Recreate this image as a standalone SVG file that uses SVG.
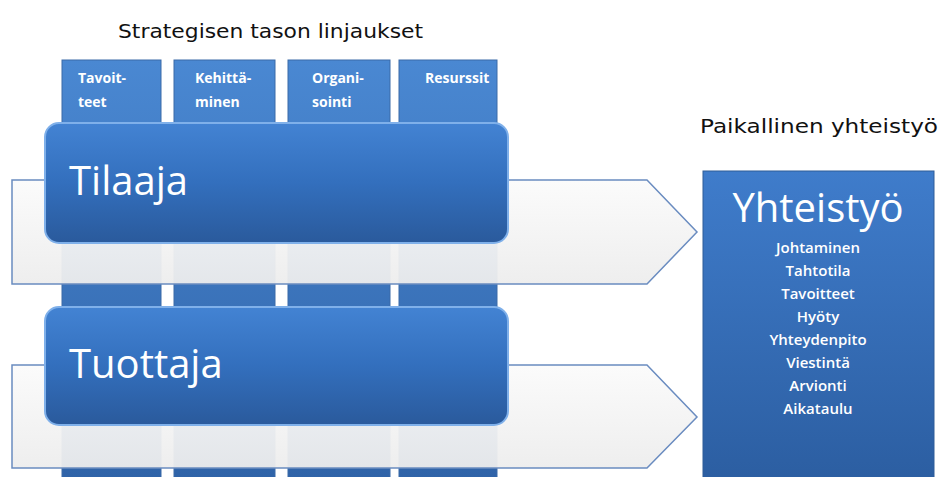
<svg xmlns="http://www.w3.org/2000/svg" width="945" height="477" viewBox="0 0 945 477">
<defs>
<linearGradient id="colG" x1="0" y1="0" x2="0" y2="1"><stop offset="0" stop-color="#4a88d2"/><stop offset="1" stop-color="#2f63a8"/></linearGradient>
<linearGradient id="boxG" x1="0" y1="0" x2="0" y2="1"><stop offset="0" stop-color="#4383d3"/><stop offset="0.5" stop-color="#336fbd"/><stop offset="1" stop-color="#2a5a9c"/></linearGradient>
<linearGradient id="bandG" x1="0" y1="0" x2="0" y2="1"><stop offset="0" stop-color="#fbfbfb"/><stop offset="1" stop-color="#ededed"/></linearGradient>
<linearGradient id="yG" x1="0" y1="0" x2="0" y2="1"><stop offset="0" stop-color="#3f7ccb"/><stop offset="1" stop-color="#2b5da0"/></linearGradient>
<style>
.col{fill:url(#colG);stroke:#3a6aa8;stroke-width:1}
.band{fill:url(#bandG);fill-opacity:0.95;stroke:#6a8cc0;stroke-width:1.5}
.box{fill:url(#boxG);stroke:#7fb0ea;stroke-width:2}
.big{font-family:"Open Sans","Noto Sans",sans-serif;fill:#fff;font-size:40px}
.sm{font-family:"Open Sans","Noto Sans",sans-serif;fill:#fff;font-weight:bold;font-size:14px}
.ls{font-family:"Open Sans","Noto Sans",sans-serif;fill:#fff;font-weight:600;font-size:15px}
.hd{font-family:"DejaVu Sans",sans-serif;fill:#111;font-size:20px}
</style>
</defs>
<rect width="945" height="477" fill="#fff"/>
<text class="hd" x="118" y="38" textLength="305" lengthAdjust="spacingAndGlyphs">Strategisen tason linjaukset</text>
<text class="hd" x="700" y="133" textLength="238" lengthAdjust="spacingAndGlyphs">Paikallinen yhteistyö</text>
<g id="col-tavoitteet"><rect class="col" x="62" y="60" width="99" height="420"/><text class="sm" x="78" y="83">Tavoit-</text><text class="sm" x="78" y="107">teet</text></g>
<g id="col-kehittaminen"><rect class="col" x="174" y="60" width="101" height="420"/><text class="sm" x="195" y="83">Kehittä-</text><text class="sm" x="195" y="107">minen</text></g>
<g id="col-organisointi"><rect class="col" x="288" y="60" width="102" height="420"/><text class="sm" x="312" y="83">Organi-</text><text class="sm" x="312" y="107">sointi</text></g>
<g id="col-resurssit"><rect class="col" x="399" y="60" width="98" height="420"/><text class="sm" x="425" y="83">Resurssit</text></g>
<g id="connectors">
<path class="band" d="M12,180 H647 L697,232 L647,284 H12 Z"/>
<path class="band" d="M12,365 H647 L697,417 L647,468 H12 Z"/>
</g>
<g id="tilaaja"><rect class="box" x="45" y="123" width="463" height="120" rx="14"/><text class="big" x="69" y="195">Tilaaja</text></g>
<g id="tuottaja"><rect class="box" x="45" y="307" width="463" height="118" rx="14"/><text class="big" x="69" y="378">Tuottaja</text></g>
<g id="yhteistyo">
<rect x="703" y="171" width="231" height="320" fill="url(#yG)" stroke="#2f5d98" stroke-width="1"/>
<text class="big" x="818" y="222" text-anchor="middle" font-size="42">Yhteistyö</text>
<g text-anchor="middle">
<text class="ls" x="818" y="253">Johtaminen</text>
<text class="ls" x="818" y="276">Tahtotila</text>
<text class="ls" x="818" y="299">Tavoitteet</text>
<text class="ls" x="818" y="322">Hyöty</text>
<text class="ls" x="818" y="345">Yhteydenpito</text>
<text class="ls" x="818" y="368">Viestintä</text>
<text class="ls" x="818" y="391">Arvionti</text>
<text class="ls" x="818" y="414">Aikataulu</text>
</g>
</g>
</svg>
